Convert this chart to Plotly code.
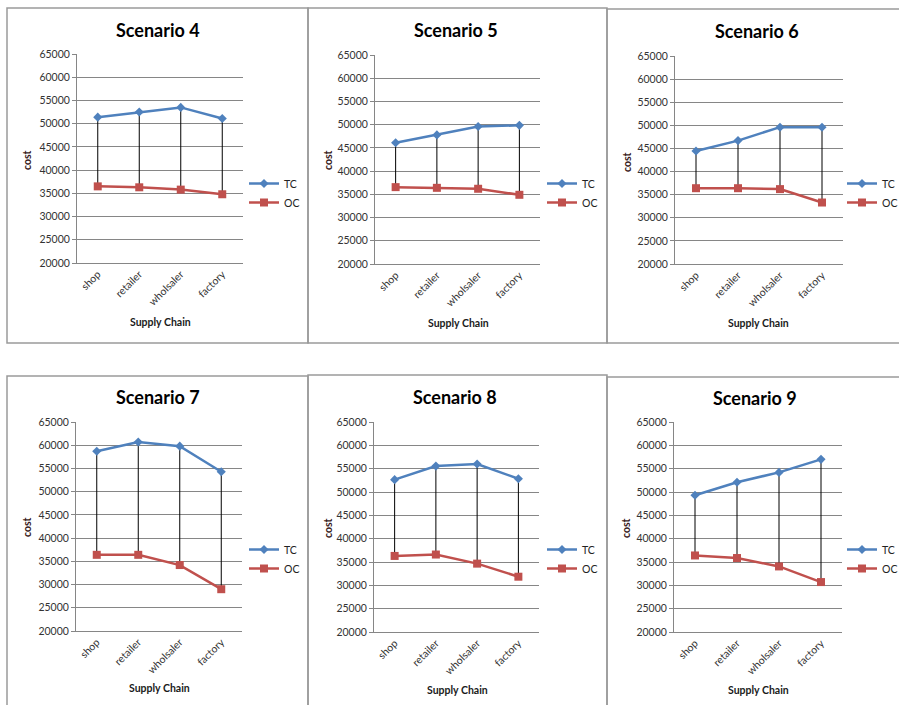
import plotly.graph_objects as go

W, H = 899, 705

categories = ["shop", "retailer", "wholsaler", "factory"]
scenario_names = ["Scenario 4", "Scenario 5", "Scenario 6", "Scenario 7", "Scenario 8", "Scenario 9"]

tc_s4 = [51400, 52500, 53500, 51100]
oc_s4 = [36500, 36300, 35800, 34800]
tc_s5 = [46100, 47800, 49600, 49850]
oc_s5 = [36550, 36400, 36200, 34900]
tc_s6 = [44450, 46700, 49600, 49600]
oc_s6 = [36400, 36400, 36200, 33300]
tc_s7 = [58700, 60700, 59800, 54300]
oc_s7 = [36400, 36400, 34200, 29000]
tc_s8 = [52650, 55550, 56000, 52850]
oc_s8 = [36300, 36600, 34650, 31850]
tc_s9 = [49300, 52100, 54200, 57000]
oc_s9 = [36400, 35850, 34050, 30700]

tc_all = [tc_s4, tc_s5, tc_s6, tc_s7, tc_s8, tc_s9]
oc_all = [oc_s4, oc_s5, oc_s6, oc_s7, oc_s8, oc_s9]

y_ticks = [20000, 25000, 30000, 35000, 40000, 45000, 50000, 55000, 60000, 65000]

FONT = "Lato, Carlito, 'Open Sans', sans-serif"
BLUE = "#4F81BD"
RED = "#C0504D"

# layout geometry (pixels)
plot_boxes = [  # x0, x1, ytop, ybottom
    (77, 243, 54, 263),
    (375, 540, 55, 264),
    (675, 843, 56, 264),
    (76, 242, 422, 631),
    (374, 539, 422, 632),
    (674, 842, 422, 632),
]
borders = [
    (7, 308, 8, 343),
    (308, 607, 8, 343),
    (607, 910, 9, 343),
    (7, 308, 376, 720),
    (308, 607, 375, 720),
    (607, 910, 377, 720),
]
title_pos = [(158, 30), (456, 30), (757, 31), (158, 397), (455, 397), (755, 398)]
xlab_pos = [(160, 322), (458, 323), (758, 323), (159, 688), (457, 690), (758, 690)]
ylab_pos = [(27, 160), (328, 160), (627, 162), (27, 527), (328, 528), (626, 528)]
legend_pos = [(244, 169), (542, 169), (842, 169), (244, 535), (542, 535), (842, 535)]

fig = go.Figure()
layout = dict(width=W, height=H, margin=dict(l=0, r=0, t=0, b=0, autoexpand=False),
              paper_bgcolor="white", plot_bgcolor="white",
              font=dict(family=FONT, color="#222"), shapes=[], annotations=[])

def px(x):
    return x / W

def py(y):
    return 1 - y / H

for i in range(6):
    n = "" if i == 0 else str(i + 1)
    xa, ya = "x" + n, "y" + n
    lg = "legend" + n
    tc, oc = tc_all[i], oc_all[i]

    hx, hy = [], []
    for c, a, b in zip(categories, tc, oc):
        hx += [c, c, None]
        hy += [a, b, None]
    fig.add_trace(go.Scatter(x=hx, y=hy, mode="lines", line=dict(color="black", width=1),
                             xaxis=xa, yaxis=ya, showlegend=False, hoverinfo="skip"))
    fig.add_trace(go.Scatter(x=categories, y=tc, mode="lines+markers", name="TC",
                             line=dict(color=BLUE, width=2.5),
                             marker=dict(symbol="diamond", size=7, color=BLUE),
                             xaxis=xa, yaxis=ya, legend=lg, legendgroup="tc" + n))
    fig.add_trace(go.Scatter(x=categories, y=oc, mode="lines+markers", name="OC",
                             line=dict(color=RED, width=2.5),
                             marker=dict(symbol="square", size=8, color=RED),
                             xaxis=xa, yaxis=ya, legend=lg, legendgroup="oc" + n))

    x0, x1, yt, yb = plot_boxes[i]
    layout["xaxis" + n] = dict(domain=[px(x0), px(x1)], anchor=ya, type="category",
                               categoryorder="array", categoryarray=categories,
                               range=[-0.5, 3.5], showgrid=False, showline=True,
                               linecolor="#868686", linewidth=1, ticks="",
                               tickangle=-45, tickfont=dict(size=10.5, color="#333"),
                               fixedrange=True, automargin=False)
    layout["yaxis" + n] = dict(domain=[py(yb), py(yt)], anchor=xa, range=[20000, 65000],
                               tickvals=y_ticks, ticktext=[str(v) for v in y_ticks],
                               showgrid=True, gridcolor="#868686", gridwidth=1,
                               showline=True, linecolor="#868686", linewidth=1,
                               ticks="outside", ticklen=4, tickcolor="#868686",
                               tickfont=dict(size=10.5, color="#333"), zeroline=False,
                               fixedrange=True, automargin=False)
    lx, ly = legend_pos[i]
    layout[lg] = dict(x=px(lx), y=py(ly), xanchor="left", yanchor="top",
                      font=dict(size=10.5, color="#222"), bgcolor="rgba(0,0,0,0)",
                      itemwidth=30, tracegroupgap=0, traceorder="grouped")

    bx0, bx1, by0, by1 = borders[i]
    layout["shapes"].append(dict(type="rect", xref="paper", yref="paper",
                                 x0=px(bx0), x1=px(bx1), y0=py(by1), y1=py(by0),
                                 line=dict(color="#9a9a9a", width=1.5), layer="below"))
    tx, ty = title_pos[i]
    layout["annotations"].append(dict(text="<b>" + scenario_names[i] + "</b>", x=px(tx), y=py(ty),
                                      xref="paper", yref="paper", showarrow=False,
                                      xanchor="center", yanchor="middle",
                                      font=dict(size=18, color="black")))
    sx, sy = xlab_pos[i]
    layout["annotations"].append(dict(text="<b>Supply Chain</b>", x=px(sx), y=py(sy),
                                      xref="paper", yref="paper", showarrow=False,
                                      xanchor="center", yanchor="middle",
                                      font=dict(size=10.5, color="#1a1a1a")))
    cx, cy = ylab_pos[i]
    layout["annotations"].append(dict(text="<b>cost</b>", x=px(cx), y=py(cy),
                                      xref="paper", yref="paper", showarrow=False,
                                      xanchor="center", yanchor="middle", textangle=-90,
                                      font=dict(size=10.5, color="#3a1c1c")))

fig.update_layout(**layout)
fig.write_html(
    "out.html",
    config={"displayModeBar": False},
    post_script="document.body.style.margin='0';document.body.style.overflow='hidden';",
)
